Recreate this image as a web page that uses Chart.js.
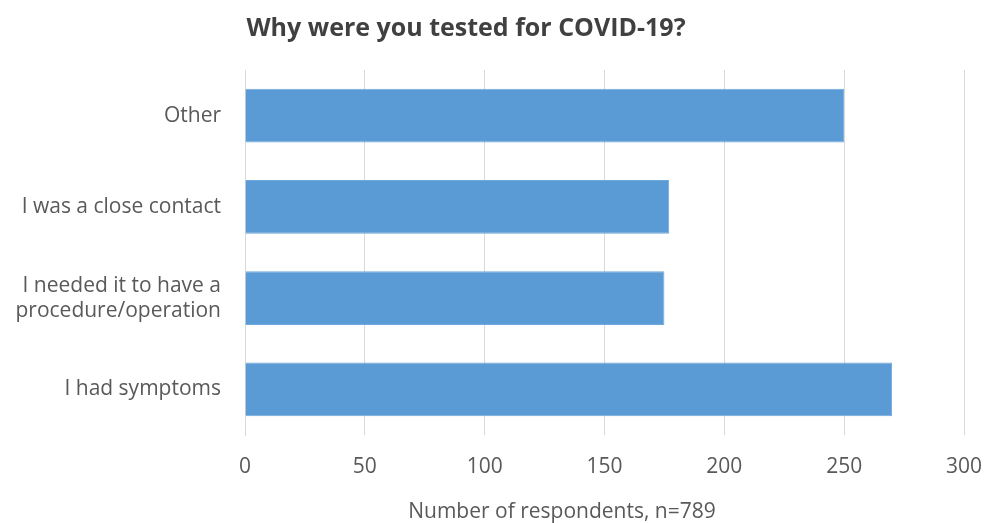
<!DOCTYPE html>
<html lang="en">
<head>
    <meta charset="UTF-8">
    <title>Why were you tested for COVID-19?</title>
    <script src="https://cdn.jsdelivr.net/npm/chart.js"></script>
    <style>
        html, body { margin: 0; padding: 0; background: #ffffff; }
        .wrap { position: relative; width: 985px; height: 523px; }
        #reasonsChart { position: absolute; left: 0; top: 0; }
        .title {
            position: absolute; left: 0; top: 9px; width: 932px;
            text-align: center; font-family: "Open Sans", sans-serif;
            font-weight: bold; font-size: 25px; color: #404040;
        }
        .axis-title {
            position: absolute; left: 312px; top: 496px; width: 500px;
            text-align: center; font-family: "Open Sans", sans-serif;
            font-size: 21px; color: #595959;
        }
    </style>
</head>
<body>
    <div class="wrap">
        <canvas id="reasonsChart" width="985" height="523"></canvas>
        <div class="title">Why were you tested for COVID-19?</div>
        <div class="axis-title">Number of respondents, n=789</div>
    </div>

    <script>
        // categories and values
        const reasons = [
            'Other',
            'I was a close contact',
            ['I needed it to have a', 'procedure/operation'],
            'I had symptoms'
        ];
        const respondents = [250, 177, 175, 270];
        const xTicks = [0, 50, 100, 150, 200, 250, 300];

        const labelFont = { family: '"Open Sans", sans-serif', size: 21 };

        new Chart(document.getElementById('reasonsChart'), {
            type: 'bar',
            data: {
                labels: reasons,
                datasets: [{
                    label: 'Respondents',
                    data: respondents,
                    backgroundColor: '#5B9BD5',
                    borderColor: '#6FA8DC',
                    borderWidth: 1,
                    categoryPercentage: 1,
                    barPercentage: 0.59
                }]
            },
            options: {
                indexAxis: 'y',
                responsive: false,
                animation: false,
                layout: { padding: { top: 70, right: 21, bottom: 0, left: 0 } },
                plugins: {
                    legend: { display: false },
                    tooltip: { enabled: false }
                },
                scales: {
                    x: {
                        min: xTicks[0],
                        max: xTicks[xTicks.length - 1],
                        afterBuildTicks: axis => { axis.ticks = xTicks.map(v => ({ value: v })); },
                        grid: { color: '#D9D9D9', lineWidth: 1, drawTicks: false },
                        border: { display: false },
                        ticks: { color: '#595959', font: labelFont, padding: 19 },
                        afterFit: scale => {
                            scale.height = 88;
                            // keep the "300" label overhang small so the plot reaches x=964
                            scale.paddingRight = 21;
                        }
                    },
                    y: {
                        grid: { display: false, drawTicks: false },
                        border: { display: true, color: '#D9D9D9' },
                        ticks: { color: '#595959', font: labelFont, padding: 24 },
                        afterFit: scale => { scale.width = 245; }
                    }
                }
            }
        });
    </script>
</body>
</html>
